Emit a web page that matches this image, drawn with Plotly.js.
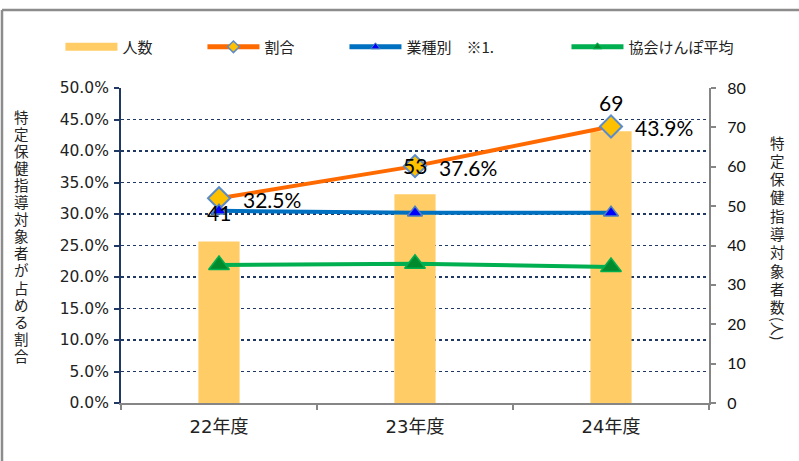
<!DOCTYPE html>
<html><head><meta charset="utf-8">
<script src="https://cdn.plot.ly/plotly-3.0.1.min.js"></script>
<style>html,body{margin:0;padding:0;background:#fff;}#chart{width:799px;height:461px;}</style>
</head><body><div id="chart"></div>
<script>
const categories = ['22年度', '23年度', '24年度'];
const countValues = [41, 53, 69];
const ratioValues = [0.325, 0.376, 0.439];
const industryValues = [0.305, 0.302, 0.302];
const kyokaiValues = [0.219, 0.221, 0.216];
const seriesNames = ['人数', '割合', '業種別　※1.', '協会けんぽ平均'];
const leftTitle = '特定保健指導対象者が占める割合';
const rightTitle = '特定保健指導対象者数';
const rightTitleUnit = '(人)';

const jp = '"Noto Sans CJK JP", "Noto Sans", sans-serif';
const tickJp = '"DejaVu Sans", "Noto Sans CJK JP", sans-serif';
const num = 'Lato, "Liberation Sans", sans-serif';
const pad = '\u3000\u3000\u3000';
const pad3 = '\u3000\u3000\u3000\u3000\u2002';

const traces = [
  {type:'bar', x:categories, y:countValues, yaxis:'y', marker:{color:'#FFCC66'}, width:0.21, showlegend:false, hoverinfo:'none'},
  {type:'scatter', mode:'lines+markers', x:categories, y:ratioValues, yaxis:'y2', showlegend:false,
   line:{color:'#FF6A00', width:4}, marker:{symbol:'diamond', size:17, color:'#FFC000', line:{color:'#5B8BC8', width:2}}},
  {type:'scatter', mode:'lines+markers', x:categories, y:industryValues, yaxis:'y2', showlegend:false,
   line:{color:'#0070C0', width:4}, marker:{symbol:'triangle-up', size:13, color:'#0000FF', line:{color:'#4F81BD', width:1.5}}},
  {type:'scatter', mode:'lines+markers', x:categories, y:kyokaiValues, yaxis:'y2', showlegend:false,
   line:{color:'#00B050', width:4}, marker:{symbol:'triangle-up', size:18, color:'#008A2E', line:{color:'#00B050', width:1.5}}},
  // legend entries
  {type:'scatter', mode:'lines', x:[null], y:[null], yaxis:'y', name:seriesNames[0]+pad, line:{color:'#FFCC66', width:8}},
  {type:'scatter', mode:'lines+markers', x:[null], y:[null], yaxis:'y2', name:seriesNames[1]+pad,
   line:{color:'#FF6A00', width:5}, marker:{symbol:'diamond', size:9, color:'#FFC000', line:{color:'#5B8BC8', width:1.5}}},
  {type:'scatter', mode:'lines+markers', x:[null], y:[null], yaxis:'y2', name:seriesNames[2]+pad3,
   line:{color:'#0070C0', width:5}, marker:{symbol:'triangle-up', size:8, color:'#0000FF', line:{color:'#4F81BD', width:1}}},
  {type:'scatter', mode:'lines+markers', x:[null], y:[null], yaxis:'y2', name:seriesNames[3],
   line:{color:'#00B050', width:5}, marker:{symbol:'triangle-up', size:8, color:'#008A2E', line:{color:'#00B050', width:1}}}
];

const annotations = [];
categories.forEach((c, i) => {
  annotations.push({x:c, y:countValues[i], xref:'x', yref:'y', text:String(countValues[i]), showarrow:false,
    yshift:29, font:{family:num, size:21, color:'#000'}});
  annotations.push({x:c, y:ratioValues[i], xref:'x', yref:'y2', text:(ratioValues[i]*100).toFixed(1)+'%', showarrow:false,
    xanchor:'left', xshift:22, yshift:-1, font:{family:num, size:21, color:'#000'}});
});
// vertical (upright) axis titles, one character per line
leftTitle.split('').forEach((ch, i) => {
  annotations.push({x:-0.1684, y:1, xref:'paper', yref:'paper', yanchor:'middle', xanchor:'center', text:ch, showarrow:false,
    yshift:-28 - 17.1*i, borderpad:0, font:{family:jp, size:14.5, color:'#222'}});
});
rightTitle.split('').forEach((ch, i) => {
  annotations.push({x:1.1173, y:1, xref:'paper', yref:'paper', yanchor:'middle', xanchor:'center', text:ch, showarrow:false,
    yshift:-54 - 18.3*i, borderpad:0, font:{family:jp, size:14.5, color:'#222'}});
});
annotations.push({x:1.1173, y:1, xref:'paper', yref:'paper', yanchor:'middle', xanchor:'center', text:rightTitleUnit, textangle:90,
  showarrow:false, yshift:-(329-88), borderpad:0, font:{family:jp, size:14, color:'#222'}});

const layout = {
  width:799, height:461,
  margin:{l:121, r:90, t:88, b:58},
  paper_bgcolor:'#fff', plot_bgcolor:'#fff',
  showlegend:true,
  legend:{orientation:'h', x:-0.103, xanchor:'left', y:1.13, yanchor:'middle', font:{family:jp, size:15, color:'#222'}, itemwidth:52},
  xaxis:{type:'category', showline:true, linecolor:'#868686', linewidth:2, ticks:'outside', tickson:'boundaries',
    ticklen:5, tickcolor:'#868686', tickwidth:2, tickfont:{family:tickJp, size:18, color:'#222'}, showgrid:false, fixedrange:true,
    ticklabelstandoff:6},
  yaxis:{range:[0,80], dtick:10, side:'right', showline:true, linecolor:'#868686', linewidth:2, ticks:'outside',
    ticklen:5, tickcolor:'#868686', tickwidth:2, showgrid:false, zeroline:false, tickfont:{family:num, size:16, color:'#111'}, ticklabelstandoff:8},
  yaxis2:{range:[0,0.5], dtick:0.05, tickformat:'.1%', side:'left', overlaying:'y', showline:true, linecolor:'#1F3864', linewidth:2,
    ticks:'outside', ticklen:5, tickcolor:'#1F3864', tickwidth:2, showgrid:true, gridcolor:'#1F3864', gridwidth:1.5, griddash:'dot',
    zeroline:false, tickfont:{family:tickJp, size:15.5, color:'#222'}, ticklabelstandoff:2},
  annotations:annotations,
  shapes:[
    {type:'line', xref:'paper', yref:'paper', x0:-0.2024, x1:1.16, y0:1.2476, y1:1.2476, line:{color:'#8C8C8C', width:2.5}},
    {type:'line', xref:'paper', yref:'paper', x0:-0.2024, x1:-0.2024, y0:1.2476, y1:-0.2, line:{color:'#8C8C8C', width:2.5}}
  ]
};
Plotly.newPlot('chart', traces, layout, {displayModeBar:false, staticPlot:true});
</script></body></html>
